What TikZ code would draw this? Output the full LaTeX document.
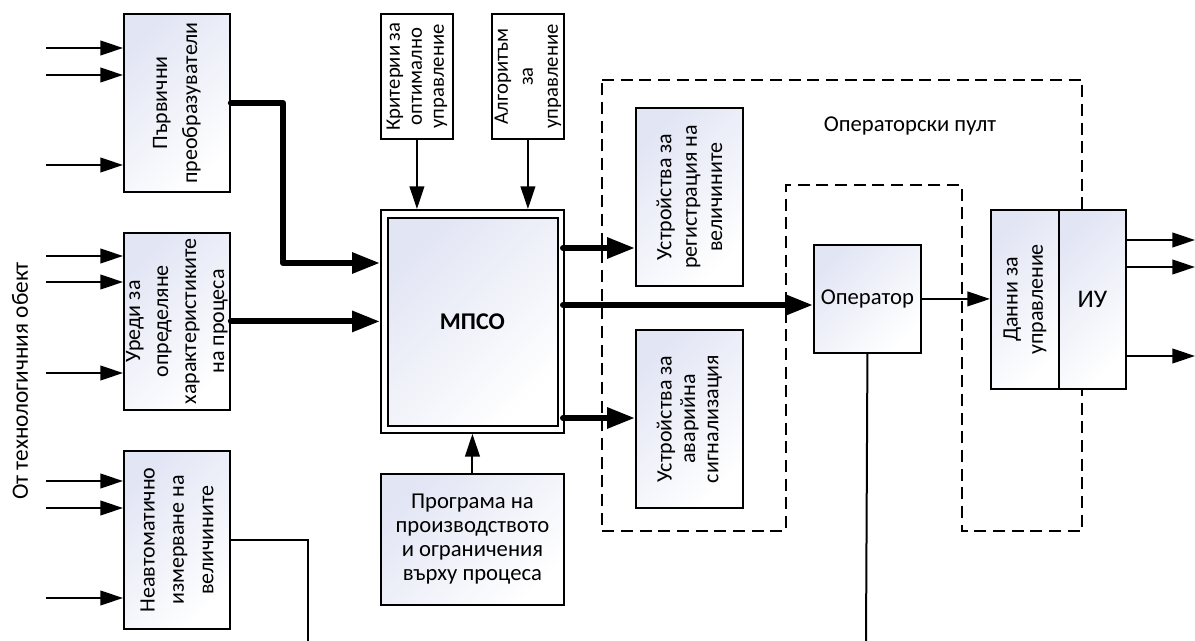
\documentclass[tikz,border=0pt]{standalone}
\usepackage{fontspec}
\setmainfont{Carlito}
\usetikzlibrary{arrows.meta}
\definecolor{boxtint}{RGB}{226,229,244}
\tikzset{
  blk/.style={draw, line width=1.4pt, top color=boxtint, bottom color=white, shading angle=45, inner sep=0pt},
  frame/.style={draw, line width=1.4pt, fill=white, inner sep=0pt},
  txt/.style={font=\fontsize{17}{18}\selectfont, align=center, inner sep=0pt},
  vtxt/.style={txt, rotate=90},
  arr/.style={line width=1.5pt, -{Triangle[length=17pt,width=11pt]}},
  wire/.style={line width=1.5pt},
  bus/.style={line width=4.5pt, line cap=round, line join=round, -{Triangle[length=21pt,width=15pt]}},
  pult/.style={line width=1.4pt, dash pattern=on 9pt off 5pt},
}
% block: style, name, left, top, right, bottom (pixel units)
\newcommand\blockat[6]{%
  \node[#1, anchor=north west, minimum width={(#5-#3)*0.75pt},
        minimum height={(#6-#4)*0.75pt}] (#2) at (#3,#4) {};}
\begin{document}
\begin{tikzpicture}[x=0.75pt, y=-0.75pt]
\useasboundingbox (0,0) rectangle (1195,641);

% operator console outline
\draw[pult] (602,80) -- (1082,80) -- (1082,531) -- (962,531) -- (962,185)
  -- (786,185) -- (786,531) -- (602,531) -- cycle;
\node[txt] (pultlbl) at (910,126) {Операторски пулт};

% source blocks
\blockat{blk}{b1}{123}{13}{229}{191}
\node[vtxt, font=\fontsize{16.5}{22.5}\selectfont] at (b1.center) {Първични\\преобразуватели};
\blockat{blk}{b2}{123}{232}{229}{409}
\node[vtxt, font=\fontsize{16.5}{21}\selectfont] at (b2.center) {Уреди за\\определяне\\характеристиките\\на процеса};
\blockat{blk}{b3}{123}{450}{229}{628}
\node[vtxt, font=\fontsize{16.5}{22}\selectfont] at (b3.center) {Неавтоматично\\измерване на\\величините};

\node[vtxt, font=\fontsize{17.5}{18}\selectfont] (src) at (20,381) {От технологичния обект};

% control inputs
\blockat{frame}{krit}{380}{13}{452}{138}
\node[vtxt, font=\fontsize{15.5}{16.5}\selectfont] at (krit.center) {Критерии за\\оптимално\\управление};
\blockat{frame}{alg}{491}{13}{563}{138}
\node[vtxt, font=\fontsize{15.5}{18.75}\selectfont] at (alg.center) {Алгоритъм\\за\\управление};

% central processor
\blockat{frame}{mpso}{380}{209}{563}{432}
\blockat{blk}{mpsoin}{387}{217}{557}{425}
\node[txt, font=\fontsize{18}{18}\bfseries] at (mpso.center) {МПСО};

\blockat{blk}{prog}{380}{473}{563}{604}
\node[txt] at (prog.center) {Програма на\\производството\\и ограничения\\върху процеса};

% console devices
\blockat{blk}{reg}{635}{107}{742}{285}
\node[vtxt, font=\fontsize{16.5}{19}\selectfont] at (reg.center) {Устройства за\\регистрация на\\величините};
\blockat{blk}{alarm}{635}{329}{742}{507}
\node[vtxt, font=\fontsize{16.5}{17.5}\selectfont] at (alarm.center) {Устройства за\\аварийна\\сигнализация};

\blockat{blk}{oper}{813}{244}{920}{352}
\node[txt] at (oper.center) {Оператор};

\blockat{blk}{dan}{990}{209}{1058}{388}
\node[vtxt, font=\fontsize{16.5}{19}\selectfont] at (dan.center) {Данни за\\управление};
\blockat{blk}{iu}{1058}{209}{1125}{388}
\node[txt, font=\fontsize{19}{18}\selectfont] at (iu.center) {ИУ};

% process inputs
\foreach \y in {48,75,165} {\coordinate (in) at (46,\y); \draw[arr] (in) -- (in -| b1.west);}
\foreach \y in {256,282,373} {\coordinate (in) at (46,\y); \draw[arr] (in) -- (in -| b2.west);}
\foreach \y in {481,508,598} {\coordinate (in) at (46,\y); \draw[arr] (in) -- (in -| b3.west);}

% buses into the processor
\coordinate (kink) at (283,263);
\draw[bus] (b1.east) -| (kink) -- (kink -| mpso.west);
\draw[bus] (b2.east) -- (b2.east -| mpso.west);

\draw[arr] (krit.south) -- (krit.south |- mpso.north);
\draw[arr] (alg.south) -- (alg.south |- mpso.north);
\draw[arr] (prog.north) -- (mpso.south);

% manual measurement line
\coordinate (manend) at (308,641);
\draw[wire] (b3.east) -| (manend);

% buses out of the processor
\coordinate (o1) at (563,248);
\coordinate (o2) at (563,305);
\coordinate (o3) at (563,418);
\draw[bus] (o1) -- (o1 -| reg.west);
\draw[bus] (o2) -- (o2 -| oper.west);
\draw[bus] (o3) -- (o3 -| alarm.west);

% operator
\draw[arr] (oper.east) -- (oper.east -| dan.west);
\coordinate (operend) at (866,641);
\draw[wire] (oper.south) -- (operend);

% actuator outputs
\foreach \y in {240,267,356} {\coordinate (out) at (1195,\y); \draw[arr] (out -| iu.east) -- (out);}
\end{tikzpicture}
\end{document}
